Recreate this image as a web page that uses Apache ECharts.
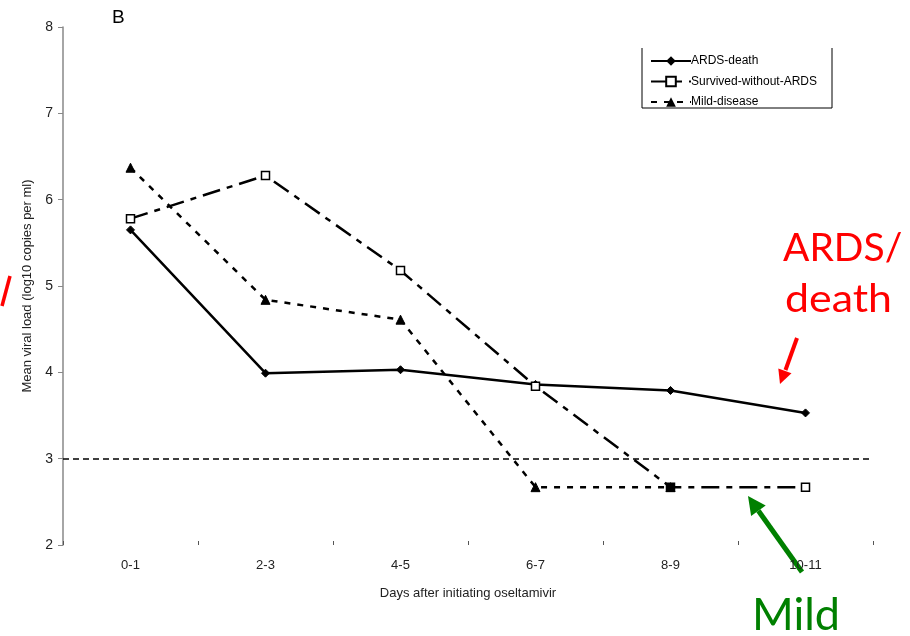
<!DOCTYPE html>
<html>
<head>
<meta charset="utf-8">
<script src="https://cdn.jsdelivr.net/npm/echarts@6/dist/echarts.min.js"></script>
<style>
  html, body { margin: 0; padding: 0; background: #fff; }
  #chart { width: 910px; height: 636px; }
</style>
</head>
<body>
<div id="chart"></div>
<script>
// Days after starting oseltamivir (grouped in two-day windows)
const categories = ['0-1', '2-3', '4-5', '6-7', '8-9', '10-11'];
// Mean viral load, log10 copies per ml
const ardsDeath = [5.65, 3.99, 4.03, 3.86, 3.79, 3.53];
const survivedWithoutArds = [5.78, 6.28, 5.18, 3.84, 2.67, 2.67];
const mildDisease = [6.37, 4.84, 4.61, 2.67, 2.67, null];
// Limit of detection
const detectionLimit = 3;
const yTicks = [2, 3, 4, 5, 6, 7, 8];

const FONT = 'Liberation Sans, Arial, sans-serif';
const NOTE_FONT = 'Lato, Calibri, sans-serif';
const chart = echarts.init(document.getElementById('chart'), null, { renderer: 'canvas' });

// Survived series: the 8-9 point is drawn as a filled square
const survivedData = survivedWithoutArds.map((v, i) =>
  i === 4 ? { value: v, itemStyle: { color: '#000' } } : v);

const option = {
  backgroundColor: '#fff',
  animation: false,
  grid: { left: 63, right: 37, top: 27, bottom: 91, containLabel: false },
  legend: {
    orient: 'vertical',
    left: 645,
    top: 50,
    itemWidth: 40,
    itemHeight: 12,
    itemGap: 8.5,
    textStyle: { fontFamily: FONT, fontSize: 12, color: '#000', padding: [0, 0, 0, -5] },
    data: ['ARDS-death', 'Survived-without-ARDS', 'Mild-disease']
  },
  xAxis: {
    type: 'category',
    data: categories,
    boundaryGap: true,
    axisLine: { show: false },
    axisTick: { show: true, alignWithLabel: false, length: 4, inside: true, lineStyle: { color: '#555', width: 1 } },
    axisLabel: { fontFamily: FONT, fontSize: 13, color: '#222', margin: 14 },
    name: 'Days after initiating oseltamivir',
    nameLocation: 'middle',
    nameGap: 42,
    nameTextStyle: { fontFamily: FONT, fontSize: 13, color: '#222' },
    splitLine: { show: false }
  },
  yAxis: {
    type: 'value',
    min: yTicks[0],
    max: yTicks[yTicks.length - 1],
    interval: 1,
    axisLine: { show: true, lineStyle: { color: '#888', width: 1.5 } },
    axisTick: { show: true, length: 5, lineStyle: { color: '#888' } },
    axisLabel: { fontFamily: FONT, fontSize: 14, color: '#222', margin: 10 },
    splitLine: { show: false },
    name: 'Mean viral load (log10 copies per ml)',
    nameLocation: 'middle',
    nameGap: 26,
    nameTextStyle: { fontFamily: FONT, fontSize: 13, color: '#222' }
  },
  series: [
    {
      name: 'ARDS-death',
      type: 'line',
      data: ardsDeath,
      symbol: 'diamond',
      symbolSize: 8,
      lineStyle: { color: '#000', width: 2.5, type: 'solid' },
      itemStyle: { color: '#000', borderColor: '#000' },
      z: 3,
      markLine: {
        silent: true,
        symbol: ['none', 'none'],
        label: { show: false },
        lineStyle: { color: '#000', width: 1.5, type: [6, 4] },
        data: [{ yAxis: detectionLimit }]
      }
    },
    {
      name: 'Mild-disease',
      type: 'line',
      data: mildDisease,
      symbol: 'triangle',
      symbolSize: 9,
      connectNulls: false,
      lineStyle: { color: '#000', width: 2.5, type: [6, 7] },
      itemStyle: { color: '#000', borderColor: '#000' },
      z: 2
    },
    {
      name: 'Survived-without-ARDS',
      type: 'line',
      data: survivedData,
      symbol: 'rect',
      symbolSize: 8,
      lineStyle: { color: '#000', width: 2.5, type: [18, 7, 6, 7] },
      itemStyle: { color: '#fff', borderColor: '#000', borderWidth: 1.5 },
      z: 4
    }
  ],
  graphic: [
    // panel letter
    { type: 'text', left: 112, top: 8, style: { text: 'B', font: '19px ' + FONT, fill: '#000' } },
    // legend frame (open at the top)
    { type: 'polyline', shape: { points: [[642, 48], [642, 108], [832, 108], [832, 48]] },
      style: { stroke: '#000', lineWidth: 1, fill: null } },
    // red annotation
    { type: 'text', x: 783, y: 229, style: { text: 'ARDS/', font: '39px ' + NOTE_FONT, fill: '#ff0000', verticalAlign: 'top' } },
    { type: 'text', x: 785, y: 280, scaleX: 1.1, style: { text: 'death', font: '39px ' + NOTE_FONT, fill: '#ff0000', verticalAlign: 'top' } },
    { type: 'line', shape: { x1: 797, y1: 338, x2: 785.5, y2: 370 }, style: { stroke: '#ff0000', lineWidth: 4 } },
    { type: 'polygon', shape: { points: [[780, 384], [791.5, 373.3], [778.3, 368.5]] }, style: { fill: '#ff0000' } },
    { type: 'line', shape: { x1: 10, y1: 276, x2: 2, y2: 306 }, style: { stroke: '#ff0000', lineWidth: 3.5 } },
    // green annotation
    { type: 'text', x: 752, y: 593, style: { text: 'Mild', font: '45px ' + NOTE_FONT, fill: '#008000', verticalAlign: 'top' } },
    { type: 'line', shape: { x1: 802, y1: 572, x2: 758.4, y2: 510.7 }, style: { stroke: '#008000', lineWidth: 5 } },
    { type: 'polygon', shape: { points: [[748, 496], [765.7, 505.5], [751.1, 515.9]] }, style: { fill: '#008000' } }
  ]
};
chart.setOption(option);
</script>
</body>
</html>
